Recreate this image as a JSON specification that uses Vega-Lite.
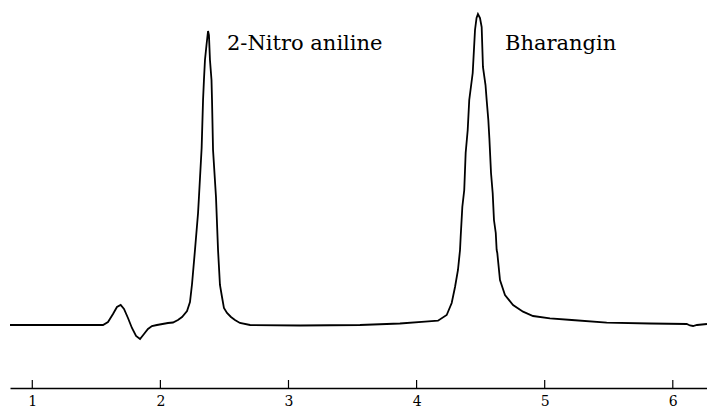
{
  "$schema": "https://vega.github.io/schema/vega-lite/v6.json",
  "width": 697,
  "height": 388,
  "autosize": {"type": "none"},
  "padding": {"left": 10, "top": 0, "right": 0, "bottom": 20},
  "background": "white",
  "config": {"view": {"stroke": null}, "font": "DejaVu Serif"},
  "datasets": {
    "trace": [
      {"t": 0.826, "v": 0}, {"t": 1.216, "v": 0}, {"t": 1.552, "v": 0}, {"t": 1.591, "v": 3},
      {"t": 1.630, "v": 11}, {"t": 1.661, "v": 18}, {"t": 1.690, "v": 20}, {"t": 1.716, "v": 16},
      {"t": 1.747, "v": 7}, {"t": 1.778, "v": -3}, {"t": 1.810, "v": -11}, {"t": 1.841, "v": -14},
      {"t": 1.872, "v": -9}, {"t": 1.903, "v": -4}, {"t": 1.934, "v": -1}, {"t": 1.973, "v": 0},
      {"t": 2.059, "v": 2}, {"t": 2.098, "v": 2.5}, {"t": 2.137, "v": 5}, {"t": 2.169, "v": 8},
      {"t": 2.208, "v": 14}, {"t": 2.231, "v": 23}, {"t": 2.247, "v": 41}, {"t": 2.270, "v": 75},
      {"t": 2.294, "v": 112}, {"t": 2.301, "v": 128}, {"t": 2.322, "v": 177}, {"t": 2.333, "v": 225},
      {"t": 2.340, "v": 245}, {"t": 2.348, "v": 265}, {"t": 2.360, "v": 280}, {"t": 2.372, "v": 294},
      {"t": 2.379, "v": 290}, {"t": 2.387, "v": 265}, {"t": 2.399, "v": 245}, {"t": 2.403, "v": 225},
      {"t": 2.411, "v": 175}, {"t": 2.434, "v": 128}, {"t": 2.450, "v": 75}, {"t": 2.465, "v": 40},
      {"t": 2.481, "v": 28}, {"t": 2.496, "v": 17}, {"t": 2.520, "v": 12}, {"t": 2.551, "v": 8},
      {"t": 2.582, "v": 5}, {"t": 2.621, "v": 2}, {"t": 2.700, "v": 0}, {"t": 3.090, "v": -0.5},
      {"t": 3.558, "v": 0}, {"t": 3.870, "v": 1.5}, {"t": 4.066, "v": 3.3}, {"t": 4.167, "v": 4.3},
      {"t": 4.235, "v": 10}, {"t": 4.274, "v": 22}, {"t": 4.300, "v": 38}, {"t": 4.323, "v": 55},
      {"t": 4.339, "v": 75}, {"t": 4.344, "v": 88}, {"t": 4.357, "v": 118}, {"t": 4.372, "v": 135},
      {"t": 4.383, "v": 172}, {"t": 4.399, "v": 195}, {"t": 4.411, "v": 225}, {"t": 4.438, "v": 252},
      {"t": 4.456, "v": 295}, {"t": 4.468, "v": 307}, {"t": 4.479, "v": 311}, {"t": 4.495, "v": 307},
      {"t": 4.508, "v": 298}, {"t": 4.518, "v": 258}, {"t": 4.538, "v": 240}, {"t": 4.547, "v": 225},
      {"t": 4.560, "v": 205}, {"t": 4.568, "v": 187}, {"t": 4.581, "v": 152}, {"t": 4.594, "v": 132},
      {"t": 4.604, "v": 105}, {"t": 4.618, "v": 92}, {"t": 4.625, "v": 75}, {"t": 4.630, "v": 72},
      {"t": 4.651, "v": 45}, {"t": 4.690, "v": 30}, {"t": 4.753, "v": 20}, {"t": 4.831, "v": 13.3},
      {"t": 4.909, "v": 9}, {"t": 5.041, "v": 6.7}, {"t": 5.211, "v": 5}, {"t": 5.484, "v": 2.3},
      {"t": 5.822, "v": 1.5}, {"t": 6.109, "v": 1}, {"t": 6.134, "v": -0.5}, {"t": 6.158, "v": -1},
      {"t": 6.189, "v": 0}, {"t": 6.267, "v": 1}
    ],
    "peaks": [
      {"label": "2-Nitro aniline", "t": 2.52, "v": 275},
      {"label": "Bharangin", "t": 4.69, "v": 275}
    ],
    "ticks": [
      {"t": 1, "lo": -63, "hi": -55}, {"t": 2, "lo": -63, "hi": -55}, {"t": 3, "lo": -63, "hi": -55},
      {"t": 4, "lo": -63, "hi": -55}, {"t": 5, "lo": -63, "hi": -55}, {"t": 6, "lo": -63, "hi": -55}
    ]
  },
  "layer": [
    {
      "data": {"name": "trace"},
      "mark": {"type": "line", "color": "black", "strokeWidth": 1.8, "clip": true},
      "encoding": {
        "x": {
          "field": "t", "type": "quantitative",
          "scale": {"domain": [0.826, 6.267], "nice": false, "zero": false},
          "axis": {
            "title": null, "values": [1, 2, 3, 4, 5, 6], "format": "d",
            "grid": false, "ticks": false,
            "domainColor": "black", "domainWidth": 1.3,
            "labelFont": "DejaVu Serif", "labelFontSize": 14, "labelColor": "black",
            "labelPadding": 6, "labelFlush": false
          }
        },
        "y": {
          "field": "v", "type": "quantitative",
          "scale": {"domain": [-63, 325], "nice": false, "zero": false},
          "axis": null
        }
      }
    },
    {
      "data": {"name": "ticks"},
      "mark": {"type": "rule", "color": "black", "strokeWidth": 1.2},
      "encoding": {
        "x": {"field": "t", "type": "quantitative"},
        "y": {"field": "lo", "type": "quantitative"},
        "y2": {"field": "hi"}
      }
    },
    {
      "data": {"name": "peaks"},
      "mark": {"type": "text", "align": "left", "baseline": "alphabetic", "font": "DejaVu Serif", "fontSize": 21, "color": "black"},
      "encoding": {
        "x": {"field": "t", "type": "quantitative"},
        "y": {"field": "v", "type": "quantitative"},
        "text": {"field": "label"}
      }
    }
  ]
}
